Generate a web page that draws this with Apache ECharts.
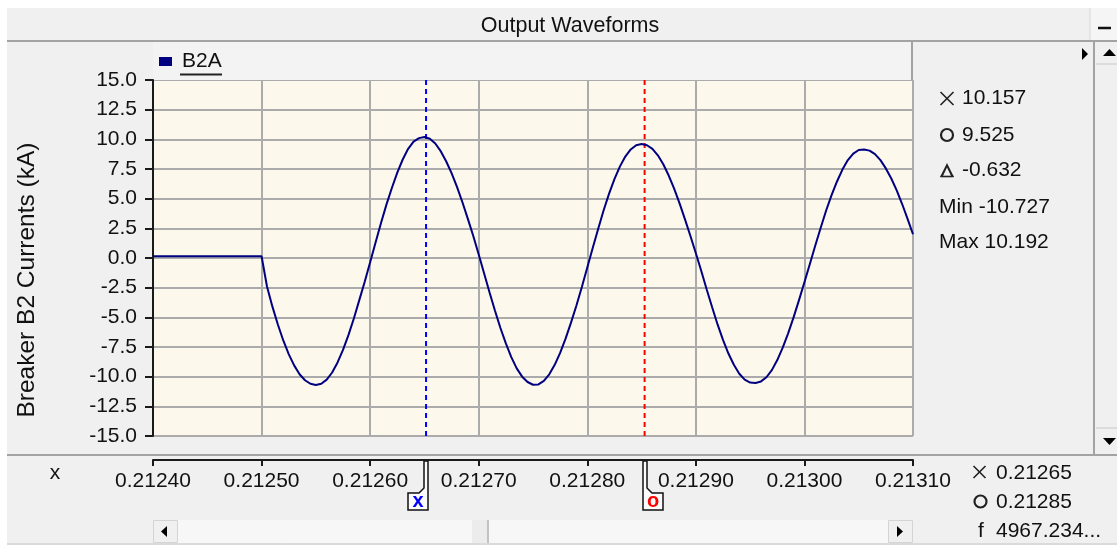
<!DOCTYPE html>
<html>
<head>
<meta charset="utf-8">
<title>Output Waveforms</title>
<script src="https://cdn.jsdelivr.net/npm/echarts@6/dist/echarts.min.js"></script>
<style>
  html, body { margin: 0; padding: 0; background: #fff; }
  #waveChart { width: 1117px; height: 546px; }
</style>
</head>
<body>
<div id="waveChart"></div>
<script>
const FONT = "'Liberation Sans', Arial, sans-serif";

// B2A breaker current (kA), one sample every 5 us starting at 0.21240 s
const sampleStart = 0.2124;
const sampleStep = 0.000005;
const currentB2A = [
  0.15, 0.15, 0.15, 0.15, 0.15, 0.15, 0.15, 0.15, 0.15, 0.15,
  0.15, 0.15, 0.15, 0.15, 0.15, 0.15, 0.15, 0.15, 0.15, 0.15,
  0.15,
  -2.4, -4.1, -5.6, -6.95, -8.1, -9.05, -9.8, -10.3, -10.6, -10.7,
  -10.6, -10.25, -9.65, -8.8, -7.75, -6.5, -5.1, -3.55, -2.0, -0.35,
  1.3, 2.95, 4.5, 5.9, 7.2, 8.3, 9.2, 9.8, 10.1, 10.2,
  10.05, 9.65, 9.0, 8.15, 7.15, 6.0, 4.7, 3.3, 1.85, 0.3,
  -1.3, -2.9, -4.45, -5.9, -7.2, -8.35, -9.3, -10.0, -10.45, -10.68,
  -10.65, -10.35, -9.8, -9.0, -8.0, -6.8, -5.45, -4.0, -2.45, -0.8,
  0.85, 2.45, 4.0, 5.4, 6.65, 7.7, 8.55, 9.15, 9.5, 9.6,
  9.5, 9.2, 8.65, 7.9, 6.95, 5.85, 4.6, 3.25, 1.85, 0.4,
  -1.1, -2.65, -4.15, -5.6, -6.9, -8.05, -9.0, -9.75, -10.25, -10.5,
  -10.53, -10.4, -10.05, -9.45, -8.6, -7.55, -6.35, -5.0, -3.55, -2.05,
  -0.5, 1.05, 2.55, 4.0, 5.3, 6.45, 7.45, 8.25, 8.8, 9.1,
  9.15, 9.05, 8.75, 8.25, 7.55, 6.7, 5.7, 4.55, 3.3, 2.0
];

// cursors: x (blue) and o (red)
const cursorTimes = [0.2126515, 0.2128528];
const cursorColors = ["#0000ff", "#ff0000"];
const cursorMarks = ["x", "o"];

// readouts
const yReadouts = ["10.157", "9.525", "-0.632"];
const minMaxReadouts = ["Min -10.727", "Max 10.192"];
const xReadouts = ["0.21265", "0.21285", "4967.234..."];

const yMin = -15;
const yMax = 15;

const chart = echarts.init(document.getElementById("waveChart"));

const seriesData = currentB2A.map((v, i) => [sampleStart + i * sampleStep, v]);

const cursorSeries = cursorTimes.map((t, i) => ({
  name: "cursor-" + cursorMarks[i],
  type: "line",
  data: [[t, yMin], [t, yMax]],
  showSymbol: false,
  silent: true,
  z: 3,
  lineStyle: { color: cursorColors[i], width: 2, type: [5, 4] }
}));

const option = {
  animation: false,
  backgroundColor: "#f0f0f0",
  title: {
    text: "Output Waveforms",
    left: 565,
    top: 10,
    textAlign: "center",
    textStyle: { fontFamily: FONT, fontSize: 21.5, fontWeight: "normal", color: "#111" }
  },
  legend: {
    left: 159,
    top: 51,
    padding: 0,
    icon: "rect",
    itemWidth: 13,
    itemHeight: 9,
    selectedMode: false,
    data: ["B2A"],
    textStyle: { fontFamily: FONT, fontSize: 21, color: "#111", padding: [0, 0, 0, 5] }
  },
  grid: {
    left: 153,
    top: 80,
    width: 760,
    height: 356,
    show: true,
    backgroundColor: "#fdf8ec",
    borderWidth: 0
  },
  xAxis: {
    type: "value",
    min: 0.2124,
    max: 0.2131,
    interval: 0.0001,
    offset: 24,
    axisLine: { show: true, onZero: false, lineStyle: { color: "#1a1a1a", width: 2 } },
    axisTick: { show: true, length: 6, lineStyle: { color: "#1a1a1a", width: 2 } },
    axisLabel: {
      margin: 11,
      fontFamily: FONT,
      fontSize: 21,
      color: "#111",
      formatter: (v) => v.toFixed(5)
    },
    splitLine: { show: true, lineStyle: { color: "#ababab", width: 2 } }
  },
  yAxis: {
    type: "value",
    min: yMin,
    max: yMax,
    interval: 2.5,
    axisLine: { show: true, onZero: false, lineStyle: { color: "#1a1a1a", width: 2 } },
    axisTick: { show: true, length: 8, lineStyle: { color: "#1a1a1a", width: 2 } },
    axisLabel: {
      margin: 16,
      fontFamily: FONT,
      fontSize: 21,
      color: "#111",
      formatter: (v) => v.toFixed(1)
    },
    splitLine: { show: true, lineStyle: { color: "#ababab", width: 2 } }
  },
  series: [
    {
      name: "B2A",
      type: "line",
      data: seriesData,
      showSymbol: false,
      z: 4,
      color: "#000080",
      lineStyle: { color: "#000080", width: 2 }
    },
    ...cursorSeries
  ]
};

chart.setOption(option);

// window chrome, readouts and cursor flags
const txt = (x, y, text, extra) => ({
  type: "text",
  x: x,
  y: y,
  silent: true,
  style: Object.assign({
    text: text,
    fill: "#111",
    font: "21px " + FONT,
    align: "left",
    verticalAlign: "middle"
  }, extra || {})
});
const ln = (x1, y1, x2, y2, color, w) => ({
  type: "line",
  silent: true,
  shape: { x1: x1, y1: y1, x2: x2, y2: y2 },
  style: { stroke: color, lineWidth: w }
});
const tri = (pts, color) => ({
  type: "polygon",
  silent: true,
  shape: { points: pts },
  style: { fill: color || "#000" }
});
const box = (x, y, w, h, fill, stroke) => ({
  type: "rect",
  silent: true,
  shape: { x: x, y: y, width: w, height: h },
  style: { fill: fill, stroke: stroke || null, lineWidth: 1 }
});
const crossIcon = (cx, cy, r) => [
  ln(cx - r, cy - r, cx + r, cy + r, "#222", 1.6),
  ln(cx - r, cy + r, cx + r, cy - r, "#222", 1.6)
];
const ringIcon = (cx, cy, r) => ({
  type: "circle",
  silent: true,
  shape: { cx: cx, cy: cy, r: r },
  style: { fill: null, stroke: "#222", lineWidth: 2.2 }
});

const graphics = [
  // outer white margins
  box(0, 0, 1117, 8, "#ffffff"),
  box(0, 0, 7, 546, "#ffffff"),
  box(0, 545, 1117, 1, "#ffffff"),
  ln(7, 544, 1117, 544, "#c4c4c4", 1),
  // title bar
  ln(7, 41, 1117, 41, "#a3a3a3", 2),
  box(1090, 8, 27, 32, "#f5f5f5"),
  ln(1090, 8, 1090, 40, "#d8d8d8", 1),
  ln(1098, 28, 1111, 28, "#111", 2.5),
  // legend panel
  box(153, 42, 759, 38, "#f3f3f3"),
  ln(912, 42, 912, 80, "#a3a3a3", 2),
  ln(180, 74.5, 222, 74.5, "#222", 2),
  tri([[1082, 48], [1088, 54], [1082, 60]]),
  // vertical scrollbar
  ln(1094, 42, 1094, 455, "#a3a3a3", 2),
  ln(1096, 64, 1117, 64, "#c8c8c8", 1),
  ln(1096, 428, 1117, 428, "#c8c8c8", 1),
  tri([[1103, 56], [1109.5, 49], [1116, 56]]),
  tri([[1103, 438], [1116, 438], [1109.5, 445]]),
  // separator above the x axis
  ln(7, 455, 1117, 455, "#a3a3a3", 2),
  // horizontal scrollbar
  box(153, 520, 760, 23, "#f7f7f7"),
  box(153.5, 520.5, 24, 22, "#f0f0f0", "#d4d4d4"),
  box(888.5, 520.5, 24, 22, "#f0f0f0", "#d4d4d4"),
  tri([[161, 531.5], [167, 526], [167, 537]]),
  tri([[897, 526], [903, 531.5], [897, 537]]),
  box(472, 520, 15, 23, "#ececec"),
  ln(488, 520, 488, 543, "#b0b0b0", 1.5),
  // axis names
  {
    type: "text",
    x: 27,
    y: 280,
    rotation: Math.PI / 2,
    silent: true,
    style: {
      text: "Breaker B2 Currents (kA)",
      fill: "#111",
      font: "24.5px " + FONT,
      align: "center",
      verticalAlign: "middle"
    }
  },
  txt(55, 473, "x", { align: "center" }),
  // y readouts
  ...crossIcon(947, 98.5, 6.5),
  ringIcon(947, 135, 6),
  tri([[940, 177], [947, 163], [954, 177], [951.5, 177], [947, 167.5], [942.5, 177]], "#222"),
  ln(940.5, 176.5, 953.5, 176.5, "#222", 1.6),
  txt(962, 98.5, yReadouts[0]),
  txt(962, 135, yReadouts[1]),
  txt(962, 170.5, yReadouts[2]),
  txt(939, 207, minMaxReadouts[0]),
  txt(939, 242.5, minMaxReadouts[1]),
  // x readouts
  ...crossIcon(979.5, 472, 6),
  ringIcon(980.5, 501.5, 6),
  txt(996, 473, xReadouts[0]),
  txt(996, 502.5, xReadouts[1]),
  txt(978, 531, "f"),
  txt(996, 531, xReadouts[2])
];

// cursor flags hanging under the x axis
cursorTimes.forEach((t, i) => {
  const px = Math.round(chart.convertToPixel({ xAxisIndex: 0 }, t));
  const pts = i === 0
    ? [[px - 2, 461], [px + 2, 461], [px + 2, 510], [px - 18, 510], [px - 18, 493], [px - 7, 493], [px - 2, 488]]
    : [[px - 2, 461], [px + 2, 461], [px + 2, 488], [px + 7, 493], [px + 18, 493], [px + 18, 510], [px - 2, 510]];
  graphics.push({
    type: "polygon",
    silent: true,
    shape: { points: pts },
    style: { fill: "#fbfbfb", stroke: "#111", lineWidth: 1.5 }
  });
  graphics.push(txt(i === 0 ? px - 8 : px + 8, 501, cursorMarks[i], {
    fill: cursorColors[i],
    font: "bold 20px " + FONT,
    align: "center"
  }));
});

chart.setOption({ graphic: graphics });
</script>
</body>
</html>
